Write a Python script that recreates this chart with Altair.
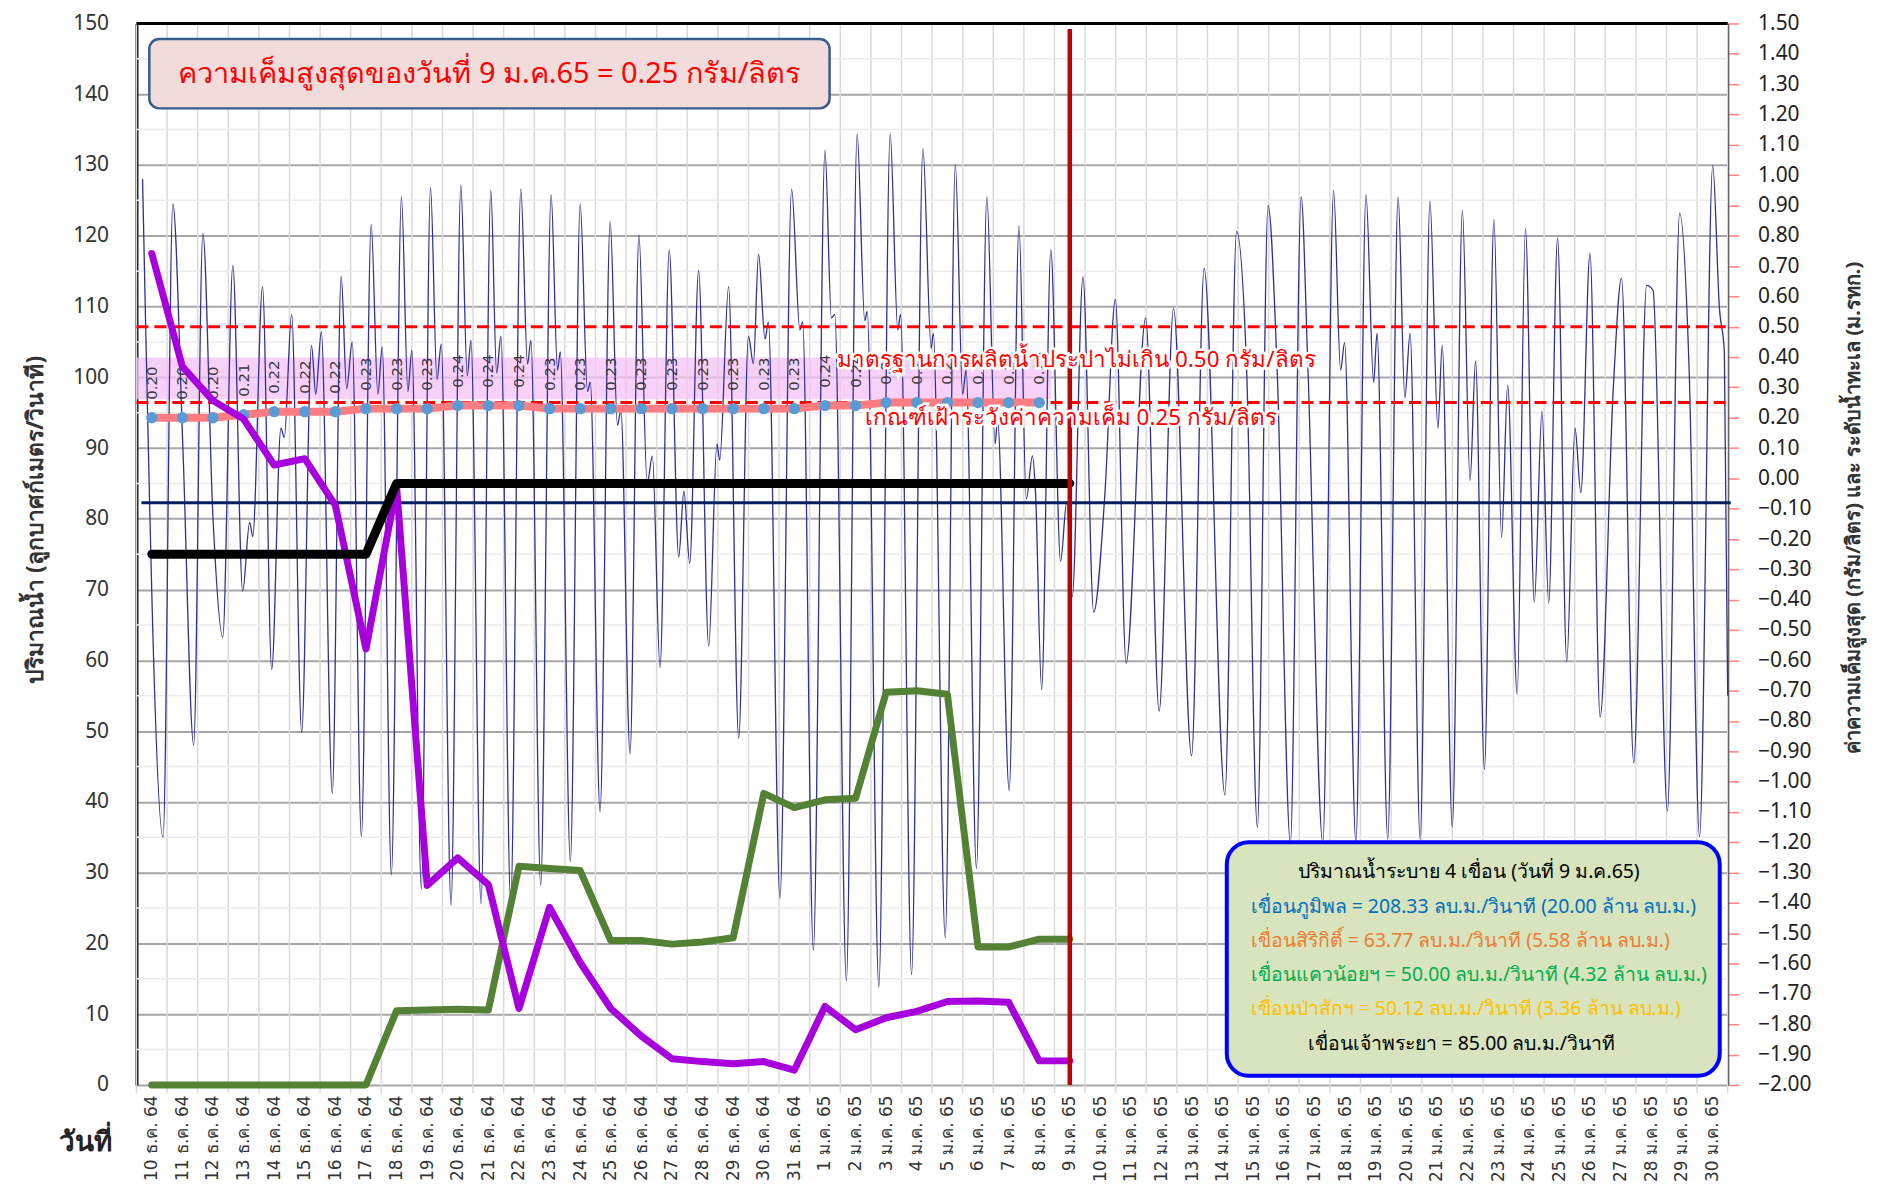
import json
import altair as alt
import pandas as pd

# ---------------- data ----------------
date_labels = [
    "10 ธ.ค. 64", "11 ธ.ค. 64", "12 ธ.ค. 64", "13 ธ.ค. 64", "14 ธ.ค. 64", "15 ธ.ค. 64",
    "16 ธ.ค. 64", "17 ธ.ค. 64", "18 ธ.ค. 64", "19 ธ.ค. 64", "20 ธ.ค. 64", "21 ธ.ค. 64",
    "22 ธ.ค. 64", "23 ธ.ค. 64", "24 ธ.ค. 64", "25 ธ.ค. 64", "26 ธ.ค. 64", "27 ธ.ค. 64",
    "28 ธ.ค. 64", "29 ธ.ค. 64", "30 ธ.ค. 64", "31 ธ.ค. 64",
    "1 ม.ค. 65", "2 ม.ค. 65", "3 ม.ค. 65", "4 ม.ค. 65", "5 ม.ค. 65", "6 ม.ค. 65",
    "7 ม.ค. 65", "8 ม.ค. 65", "9 ม.ค. 65", "10 ม.ค. 65", "11 ม.ค. 65", "12 ม.ค. 65",
    "13 ม.ค. 65", "14 ม.ค. 65", "15 ม.ค. 65", "16 ม.ค. 65", "17 ม.ค. 65", "18 ม.ค. 65",
    "19 ม.ค. 65", "20 ม.ค. 65", "21 ม.ค. 65", "22 ม.ค. 65", "23 ม.ค. 65", "24 ม.ค. 65",
    "25 ม.ค. 65", "26 ม.ค. 65", "27 ม.ค. 65", "28 ม.ค. 65", "29 ม.ค. 65", "30 ม.ค. 65",
]

# daily series, 10 Dec 64 .. 9 Jan 65 (m3/s, left axis)
flow_purple = [117.5, 101.5, 96.7, 94.1, 87.6, 88.5, 81.9, 61.6, 84.6, 28.2, 32.1, 28.3,
               10.8, 25.1, 17.3, 10.8, 6.9, 3.7, 3.3, 3.0, 3.3, 2.1,
               11.1, 7.8, 9.5, 10.4, 11.8, 11.85, 11.7, 3.4, 3.4]
flow_green = [0, 0, 0, 0, 0, 0, 0, 0, 10.5, 10.6, 10.7, 10.6,
              30.9, 30.6, 30.3, 20.4, 20.4, 19.9, 20.2, 20.8, 41.2, 39.2,
              40.3, 40.5, 55.5, 55.7, 55.2, 19.5, 19.5, 20.6, 20.6]
flow_chaophraya = [75, 75, 75, 75, 75, 75, 75, 75, 85, 85, 85, 85,
                   85, 85, 85, 85, 85, 85, 85, 85, 85, 85,
                   85, 85, 85, 85, 85, 85, 85, 85, 85]

# max daily salinity (g/l, right axis), 10 Dec 64 .. 8 Jan 65
salinity = [0.20, 0.20, 0.20, 0.21, 0.22, 0.22, 0.22, 0.23, 0.23, 0.23, 0.24, 0.24,
            0.24, 0.23, 0.23, 0.23, 0.23, 0.23, 0.23, 0.23, 0.23, 0.23,
            0.24, 0.24, 0.25, 0.25, 0.25, 0.25, 0.25, 0.25]

# tide: (days since 10 Dec 00:00, level read on the left-axis grid)
tide = [
    (0.20, 128), (0.87, 35), (1.19, 124.5), (1.52, 89.7), (1.87, 48), (2.17, 120.3),
    (2.50, 80.2), (2.82, 63.3), (3.15, 115.8), (3.47, 69.8), (3.70, 79.5), (3.80, 77.5),
    (4.12, 112.8), (4.42, 58.7), (4.72, 92.8), (4.83, 91.5), (5.07, 108.9), (5.40, 49.8),
    (5.72, 104.5), (5.86, 97.6), (6.04, 106.4), (6.40, 41.2), (6.69, 114.3), (6.87, 98.4),
    (7.05, 105), (7.35, 35.1), (7.67, 121.6), (7.89, 97.6), (8.03, 104.3), (8.33, 29.7),
    (8.66, 125.5), (8.87, 98), (9.00, 103.8), (9.31, 27.7), (9.61, 126.8), (9.82, 99.7),
    (9.96, 104.7), (10.28, 25.4), (10.60, 127.2), (10.81, 100.2), (10.93, 105.2), (11.26, 25.6),
    (11.58, 126.4), (11.77, 100.6), (11.91, 105.8), (12.23, 25.7), (12.56, 126.6), (12.78, 101.9),
    (12.89, 105.2), (13.21, 28.2), (13.55, 125.8), (13.76, 101), (13.85, 103.6), (14.18, 31.6),
    (14.50, 124.5), (14.74, 98), (14.83, 99.3), (15.15, 38.6), (15.48, 122), (15.72, 93.2),
    (15.83, 95.4), (16.13, 46.8), (16.42, 120.1), (16.69, 85), (16.86, 88.9), (17.11, 59),
    (17.41, 118), (17.72, 74.6), (17.89, 83.9), (18.08, 73.7), (18.37, 115.1), (18.70, 62),
    (18.97, 90.6), (19.06, 88.3), (19.35, 112.8), (19.68, 49), (20.00, 105.8), (20.16, 101.9),
    (20.33, 117.4), (20.54, 105.4), (20.65, 107.8), (21.03, 26.4), (21.41, 126.6), (21.68, 106.7),
    (21.77, 107.8), (22.12, 19), (22.50, 132.1), (22.71, 108.4), (22.82, 108.9), (23.20, 14.7),
    (23.55, 134.4), (23.80, 108), (23.88, 109.3), (24.26, 13.8), (24.63, 134.4), (24.88, 106.7),
    (24.97, 108.9), (25.33, 15.6), (25.70, 132.3), (25.97, 104.1), (26.04, 106.2), (26.43, 20.8),
    (26.76, 130), (27.00, 97.6), (27.11, 101), (27.45, 30.6), (27.79, 125.5), (28.06, 90.6),
    (28.14, 94.1), (28.52, 41.6), (28.84, 121.4), (29.08, 82.8), (29.28, 88.9), (29.38, 83.7),
    (29.58, 55.9), (29.88, 118), (30.20, 74), (30.40, 82.4), (30.58, 69), (30.93, 114.2),
    (31.28, 66.8), (31.65, 83.7), (31.99, 111), (32.34, 59.6), (32.98, 108.4), (33.42, 52.8),
    (33.89, 109.7), (34.48, 46.5), (34.89, 115.4), (35.57, 41), (35.95, 120.6), (36.28, 101),
    (36.63, 36.4), (36.98, 124.3), (37.28, 100.6), (37.71, 34.2), (38.06, 125.5), (38.28, 101.5),
    (38.77, 34.2), (39.12, 126.4), (39.35, 101), (39.48, 104.9), (39.85, 34.2), (40.18, 125.8),
    (40.43, 99.3), (40.54, 106.2), (40.89, 34.7), (41.23, 125.5), (41.45, 97.1), (41.62, 106.2),
    (41.95, 34.7), (42.27, 124.9), (42.53, 92.8), (42.67, 104.5), (43.00, 36.4), (43.33, 123.6),
    (43.58, 85.4), (43.76, 102.3), (44.05, 44.6), (44.36, 122.3), (44.61, 77.4), (44.81, 98.9),
    (45.12, 55.2), (45.39, 121), (45.68, 68.2), (45.93, 95.2), (46.15, 68.1), (46.44, 119.7),
    (46.74, 59.8), (47.01, 92.8), (47.20, 83.7), (47.50, 117.5), (47.83, 52), (48.26, 98.4),
    (48.53, 114), (48.93, 45.5), (49.35, 113), (49.56, 112.3), (50.03, 38.7), (50.43, 123.2),
    (50.74, 101), (51.08, 35.1), (51.51, 129.9), (51.73, 109.7), (51.89, 103.6), (52.00, 55),
]

left_ticks = [0, 10, 20, 30, 40, 50, 60, 70, 80, 90, 100, 110, 120, 130, 140, 150]
minor_levels = [5, 15, 25, 35, 45, 55, 65, 75, 85, 95, 105, 115, 125, 135, 145]
right_ticks = [round(-2.0 + 0.1 * i, 2) for i in range(36)]

title_text = "ความเค็มสูงสุดของวันที่ 9 ม.ค.65 = 0.25 กรัม/ลิตร"
std_text = "มาตรฐานการผลิตน้ำประปาไม่เกิน 0.50 กรัม/ลิตร"
watch_text = "เกณฑ์เฝ้าระวังค่าความเค็ม 0.25 กรัม/ลิตร"
legend_lines = [
    ("ปริมาณน้ำระบาย 4 เขื่อน (วันที่ 9 ม.ค.65)", "#000000"),
    ("เขื่อนภูมิพล = 208.33 ลบ.ม./วินาที  (20.00 ล้าน ลบ.ม.)", "#0070c0"),
    ("เขื่อนสิริกิติ์  = 63.77 ลบ.ม./วินาที  (5.58 ล้าน ลบ.ม.)", "#ed7d31"),
    ("เขื่อนแควน้อยฯ = 50.00 ลบ.ม./วินาที (4.32 ล้าน ลบ.ม.)", "#00b050"),
    ("เขื่อนป่าสักฯ = 50.12 ลบ.ม./วินาที (3.36 ล้าน ลบ.ม.)", "#ffc000"),
    ("เขื่อนเจ้าพระยา = 85.00 ลบ.ม./วินาที", "#000000"),
]

# ---------------- frames ----------------
W, H = 1598, 1066
FONT = "Noto Sans"

daily = pd.DataFrame({
    "day": [i + 0.5 for i in range(len(flow_purple))],
    "purple": flow_purple, "green": flow_green, "black": flow_chaophraya,
})
sal = pd.DataFrame({"day": [i + 0.5 for i in range(len(salinity))], "sal": salinity})
sal["lab"] = [f"{v:.2f}" for v in salinity]
tide_df = pd.DataFrame(tide, columns=["t", "level"])
one = pd.DataFrame({"k": [0]})

xs = alt.Scale(domain=[0, 52], nice=False, zero=False)
ls = alt.Scale(domain=[0, 150], nice=False, zero=False)
rs = alt.Scale(domain=[-2.0, 1.5], nice=False, zero=False)

labels_js = json.dumps(date_labels, ensure_ascii=False)
x_axis = alt.Axis(
    values=[i + 0.5 for i in range(52)],
    labelExpr=f"{labels_js}[floor(datum.value)]",
    labelAngle=270, labelFont="DejaVu Sans", labelFontSize=17, labelColor="#333333",
    labelPadding=10, ticks=False, grid=False, domain=False, labelOverlap=False,
    title="วันที่", titleX=-52, titleY=58, titleAlign="center", titleBaseline="middle",
    titleFont=FONT, titleFontSize=28, titleFontWeight="bold", titleColor="#222222",
)


def XF(field):
    return alt.X(field, scale=xs, axis=x_axis)


def XD(v):
    return alt.XDatum(v, scale=xs, axis=x_axis)


def LY(v):
    return alt.YDatum(v, scale=ls, axis=None)


def RY(v):
    return alt.YDatum(v, scale=rs, axis=None)


left_axis = alt.Axis(
    orient="left", values=left_ticks, grid=True, gridColor="#a6a6a6", gridWidth=2,
    ticks=False, domain=True, domainColor="#000000", domainWidth=3,
    labelFont=FONT, labelFontSize=21, labelColor="#333333", labelPadding=28,
    title="ปริมาณน้ำ (ลูกบาศก์เมตร/วินาที)", titleX=-101, titleY=498, titleAngle=270,
    titleAlign="center", titleBaseline="middle", titleFont=FONT, titleFontSize=23,
    titleFontWeight="bold", titleColor="#333333",
)
right_axis = alt.Axis(
    orient="right", values=right_ticks, format=".2f", grid=False,
    ticks=True, tickColor="#ff8080", tickSize=11, tickWidth=1.5,
    domain=True, domainColor="#000000", domainWidth=2,
    labelFont=FONT, labelFontSize=21, labelColor="#222222", labelPadding=19,
    title="ค่าความเค็มสูงสุด (กรัม/ลิตร) และ ระดับน้ำทะเล (ม.รทก.)", titleX=126, titleY=486,
    titleAngle=270, titleAlign="center", titleBaseline="middle", titleFont=FONT,
    titleFontSize=20, titleFontWeight="bold", titleColor="#333333",
)

layers = []

# vertical day grid (also gives the small ticks under the axis)
vgrid = alt.Chart(pd.DataFrame({"b": list(range(53))})).mark_rule(
    color="#d9d9d9", strokeWidth=1.5).encode(
    x=XF("b:Q"), y=alt.value(0), y2=alt.value(H + 8))
layers.append(vgrid)

# minor horizontal grid (carries the left axis)
hminor = alt.Chart(pd.DataFrame({"m": minor_levels})).mark_rule(
    color="#ececec", strokeWidth=1.5).encode(
    y=alt.Y("m:Q", scale=ls, axis=left_axis), x=alt.value(0), x2=alt.value(W))
layers.append(hminor)

# pink band behind salinity labels
band = alt.Chart(one).mark_rect(color="#f5c2f5", opacity=0.75).encode(
    x=XD(0), x2=alt.X2Datum(29.9), y=LY(96.9), y2=alt.Y2Datum(102.8))
layers.append(band)

# tide
tide_line = alt.Chart(tide_df).mark_line(
    color="#30309a", strokeWidth=1.3, interpolate="monotone").encode(
    x=XF("t:Q"), y=alt.Y("level:Q", scale=ls, axis=None))
layers.append(tide_line)

# red dashed thresholds (right units)
for v in (0.50, 0.25):
    layers.append(alt.Chart(one).mark_rule(
        color="#ff0000", strokeWidth=3, strokeDash=[12, 6]).encode(
        y=RY(v), x=alt.value(0), x2=alt.value(W)))

# navy reference line
layers.append(alt.Chart(one).mark_rule(color="#002060", strokeWidth=3).encode(
    y=RY(-0.08), x=alt.value(5), x2=alt.value(W + 3)))

# salinity line + dots (carries the right axis) + labels
sal_base = alt.Chart(sal).encode(
    x=XF("day:Q"), y=alt.Y("sal:Q", scale=rs, axis=right_axis))
layers.append(sal_base.mark_line(color="#ff7c80", strokeWidth=8))
layers.append(alt.Chart(sal).mark_circle(color="#5b9bd5", size=130, opacity=1).encode(
    x=XF("day:Q"), y=alt.Y("sal:Q", scale=rs, axis=None)))
layers.append(alt.Chart(sal).mark_text(
    angle=270, align="left", baseline="middle", dx=18, fontSize=15,
    font="DejaVu Sans", color="#3a3a3a").encode(
    x=XF("day:Q"), y=alt.Y("sal:Q", scale=rs, axis=None), text="lab:N"))


# daily flow lines
def flow(field, color, width):
    return alt.Chart(daily).mark_line(
        color=color, strokeWidth=width, strokeJoin="round", strokeCap="round").encode(
        x=XF("day:Q"), y=alt.Y(f"{field}:Q", scale=ls, axis=None))


layers.append(flow("green", "#548235", 7))
layers.append(flow("purple", "#a800dc", 7))
layers.append(flow("black", "#000000", 9))

# current-day red marker
layers.append(alt.Chart(one).mark_rule(color="#c00000", strokeWidth=4.5).encode(
    x=XD(30.5), y=LY(0), y2=alt.Y2Datum(149.2)))

# top border
layers.append(alt.Chart(one).mark_rule(color="#000000", strokeWidth=3).encode(
    y=LY(150), x=alt.value(0), x2=alt.value(W)))

# red threshold texts with white halo
for txt, xv, yv in ((std_text, 22.9, 102.5), (watch_text, 23.8, 94.2)):
    layers.append(alt.Chart(one).mark_text(
        text=txt, align="left", baseline="middle", font=FONT, fontSize=22.5,
        fill="#ffffff", stroke="#ffffff", strokeWidth=5).encode(x=XD(xv), y=LY(yv)))
    layers.append(alt.Chart(one).mark_text(
        text=txt, align="left", baseline="middle", font=FONT, fontSize=22.5,
        color="#ff0000").encode(x=XD(xv), y=LY(yv)))

# title box
layers.append(alt.Chart(one).mark_rect(
    fill="#f2dcdb", stroke="#385d8a", strokeWidth=2.5, cornerRadius=10).encode(
    x=XD(0.42), x2=alt.X2Datum(22.65), y=LY(138.0), y2=alt.Y2Datum(147.8)))
layers.append(alt.Chart(one).mark_text(
    text=title_text, align="center", baseline="middle", font=FONT, fontSize=29,
    color="#ff0000").encode(x=XD(11.55), y=LY(142.9)))

# release legend box
layers.append(alt.Chart(one).mark_rect(
    fill="#d7e4bd", stroke="#0000ff", strokeWidth=4, cornerRadius=22).encode(
    x=XD(35.63), x2=alt.X2Datum(51.74), y=LY(1.3), y2=alt.Y2Datum(34.3)))
legend_pos = [(43.54, 30.1, "center"), (36.41, 25.2, "left"), (36.41, 20.4, "left"),
              (36.41, 15.5, "left"), (36.41, 10.7, "left"), (38.27, 5.8, "left")]
for (txt, col), (xv, yv, al) in zip(legend_lines, legend_pos):
    layers.append(alt.Chart(one).mark_text(
        text=txt, align=al, baseline="middle", font=FONT, fontSize=19.5,
        color=col).encode(x=XD(xv), y=LY(yv)))

chart = alt.layer(*layers).resolve_scale(y="independent").properties(
    width=W, height=H,
    padding={"left": 129, "top": 13, "right": 168, "bottom": 108},
    autosize=alt.AutoSizeParams(type="none"),
).configure_view(stroke=None).configure(background="#ffffff")

chart.save("out.html", embed_options={"renderer": "svg", "actions": False})
